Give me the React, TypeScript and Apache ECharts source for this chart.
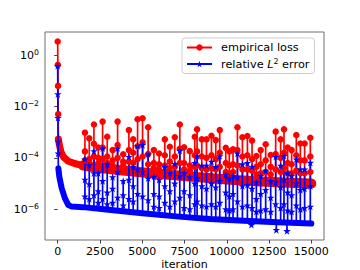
import React, { useEffect, useRef } from 'react';
import * as echarts from 'echarts';

const FONT = 'DejaVu Sans';
const RED = '#ff0000';
const BLUE = '#0000ff';
const LOSS_NAME = 'empirical loss';
const ERR_NAME = 'relative L² error';

const xTickValues = [0, 2500, 5000, 7500, 10000, 12500, 15000];
const yTickExponents = [-6, -4, -2, 0];

// values are stored as log10 of the plotted quantity
const lossStartIter = [0, 10, 20, 30];
const lossStartLog10 = [0.53, -0.38, -1.2, -2.3];
const errStartIter = [0, 8, 16, 24, 32];
const errStartLog10 = [-0.42, -1.52, -2.44, -3.37, -3.83];

const lossBandIter = [40, 100, 200, 350, 600, 1000, 1500, 2500, 4000, 6000, 8000, 10000, 12000, 14000, 15000];
const lossBandLog10 = [-3.27, -3.5, -3.78, -3.97, -4.12, -4.22, -4.3, -4.4, -4.5, -4.63, -4.74, -4.84, -4.92, -4.98, -5.0];
const errBandIter = [40, 100, 240, 430, 630, 830, 1500, 3000, 5000, 7000, 9000, 11000, 13000, 15000];
const errBandLog10 = [-4.41, -4.75, -5.19, -5.58, -5.84, -5.9, -5.92, -6.02, -6.16, -6.28, -6.38, -6.45, -6.51, -6.56];

const spikeIter = [1612, 1867, 2144, 2400, 2657, 2930, 3248, 3543, 3875, 4211, 4465, 4725, 5020, 5350, 5687, 6000, 6337, 6632, 6927, 7222, 7477, 7813, 8108, 8244, 8522, 8800, 9095, 9350, 9585, 9940, 10150, 10370, 10630, 10925, 11220, 11495, 11750, 12006, 12300, 12597, 12892, 13187, 13384, 13600, 13836, 14113, 14350, 14604, 14941];
const lossPeakLog10 = [-3.02, -3.24, -2.7, -3.6, -2.59, -3.18, -3.7, -2.59, -3.86, -2.92, -3.28, -2.5, -2.46, -2.81, -3.7, -3.83, -3.28, -3.57, -3.2, -2.7, -3.59, -3.74, -3.18, -2.89, -3.28, -3.28, -3.14, -3.31, -2.92, -3.61, -3.75, -3.67, -2.81, -3.2, -3.15, -3.33, -3.93, -3.7, -3.47, -3.89, -2.98, -3.28, -2.89, -3.6, -3.7, -3.11, -3.44, -3.44, -3.22];
const lossMidLog10 = [-3.75, -4.05, -3.45, -4.0, -3.6, -3.95, -4.1, -3.5, -4.15, -3.7, -3.8, -3.55, -3.4, -3.85, -4.2, -4.25, -3.9, -4.15, -3.95, -3.65, -4.2, -4.3, -3.9, -3.75, -3.95, -4.0, -3.9, -4.05, -3.8, -4.2, -4.3, -4.25, -3.7, -3.95, -3.9, -4.05, -4.35, -4.25, -4.1, -4.35, -3.85, -4.0, -3.8, -4.2, -4.25, -3.9, -4.1, -4.1, -3.95];
const lossLowLog10 = [-4.1, -4.2, -3.95, -4.2, -4.05, -4.2, -4.3, -4.0, -4.3, -4.15, -4.2, -4.05, -3.95, -4.25, -4.4, -4.45, -4.3, -4.4, -4.35, -4.2, -4.45, -4.5, -4.35, -4.3, -4.4, -4.45, -4.4, -4.45, -4.35, -4.55, -4.6, -4.55, -4.3, -4.45, -4.45, -4.5, -4.65, -4.6, -4.55, -4.65, -4.45, -4.55, -4.4, -4.6, -4.6, -4.5, -4.6, -4.6, -4.55];
const lossFootLog10 = [-4.31, -4.33, -4.35, -4.37, -4.39, -4.4, -4.42, -4.44, -4.46, -4.48, -4.5, -4.51, -4.53, -4.55, -4.57, -4.6, -4.62, -4.64, -4.66, -4.68, -4.7, -4.72, -4.74, -4.75, -4.77, -4.79, -4.81, -4.82, -4.83, -4.85, -4.86, -4.87, -4.88, -4.89, -4.9, -4.91, -4.92, -4.93, -4.94, -4.95, -4.96, -4.97, -4.97, -4.98, -4.98, -4.99, -4.99, -5.0, -5.0];
const errPeakLog10 = [-4.06, -4.28, -3.74, -4.6, -3.63, -4.25, -4.75, -3.63, -4.9, -3.96, -4.35, -3.54, -3.5, -3.86, -4.73, -4.85, -4.35, -4.6, -4.24, -3.72, -4.6, -4.75, -4.2, -3.93, -4.3, -4.3, -4.15, -4.35, -3.93, -4.65, -4.8, -4.7, -3.83, -4.25, -4.2, -4.35, -4.95, -4.7, -4.5, -4.9, -3.96, -4.3, -3.92, -4.6, -4.7, -4.06, -4.45, -4.45, -4.19];
const errMidLog10 = [-4.85, -5.02, -4.6, -5.3, -4.9, -5.35, -5.2, -4.55, -5.45, -4.85, -5.1, -4.45, -4.55, -4.8, -5.4, -5.5, -5.1, -5.3, -5.0, -4.7, -5.3, -5.45, -5.0, -4.8, -5.1, -5.2, -5.0, -5.15, -4.9, -5.35, -5.5, -5.4, -4.75, -5.1, -5.05, -5.2, -5.6, -5.4, -5.25, -5.55, -4.95, -5.15, -4.85, -5.35, -5.45, -5.0, -5.25, -5.2, -5.1];
const errLowLog10 = [-5.5, -5.6, -5.45, -5.75, -5.6, -5.8, -5.75, -5.55, -5.85, -5.6, -5.7, -5.4, -5.5, -5.65, -5.9, -5.95, -5.75, -5.9, -5.7, -5.55, -5.95, -6.0, -5.8, -5.7, -5.85, -5.9, -5.8, -5.9, -5.75, -6.0, -6.05, -6.0, -5.7, -5.9, -5.85, -5.95, -6.1, -6.05, -6.0, -6.1, -5.8, -5.95, -5.8, -6.05, -6.1, -5.85, -6.0, -5.95, -5.9];
const errFootLog10 = [-5.93, -5.94, -5.95, -5.96, -5.97, -5.98, -6.0, -6.02, -6.04, -6.06, -6.08, -6.1, -6.12, -6.14, -6.17, -6.19, -6.21, -6.23, -6.25, -6.27, -6.29, -6.31, -6.33, -6.34, -6.35, -6.36, -6.38, -6.39, -6.4, -6.41, -6.42, -6.42, -6.43, -6.44, -6.45, -6.46, -6.47, -6.48, -6.49, -6.5, -6.51, -6.52, -6.52, -6.53, -6.53, -6.54, -6.55, -6.55, -6.56];

const errDipIter = [11460, 12930, 13560];
const errDipLog10 = [-6.61, -6.81, -6.85];
const errDipFootLog10 = [-6.46, -6.51, -6.53];

const Y_MIN_EXP = -7.2;
const Y_MAX_EXP = 0.9;
const NOISY_FROM = 1500;

const STAR = 'path://M50,0 L61.2,34.5 L97.6,34.5 L68.2,55.9 L79.4,90.5 L50,69.1 L20.6,90.5 L31.8,55.9 L2.4,34.5 L38.8,34.5 Z';

const pw = (v: number) => Math.pow(10, v);

function buildLoss() {
  const d: any[] = [];
  lossStartIter.forEach((it, i) => d.push([it, pw(lossStartLog10[i])]));
  d.push({ value: [lossBandIter[0], pw(lossBandLog10[0])], symbol: 'none' });
  d.push([lossBandIter[0], '-']);
  spikeIter.forEach((it, i) => {
    d.push({ value: [it, pw(lossFootLog10[i])], symbol: 'none' });
    d.push([it, pw(lossPeakLog10[i])]);
    d.push([it, pw(lossMidLog10[i])]);
    d.push([it, pw(lossLowLog10[i])]);
    d.push({ value: [it, pw(lossFootLog10[i])], symbol: 'none' });
    d.push([it, '-']);
  });
  return d;
}

function buildErr() {
  const d: any[] = [];
  errStartIter.forEach((it, i) => d.push([it, pw(errStartLog10[i])]));
  d.push({ value: [errBandIter[0], pw(errBandLog10[0])], symbol: 'none' });
  d.push([errBandIter[0], '-']);
  spikeIter.forEach((it, i) => {
    d.push({ value: [it, pw(errFootLog10[i])], symbol: 'none' });
    d.push([it, pw(errPeakLog10[i])]);
    d.push([it, pw(errMidLog10[i])]);
    d.push([it, pw(errLowLog10[i])]);
    d.push({ value: [it, pw(errFootLog10[i])], symbol: 'none' });
    d.push([it, '-']);
  });
  errDipIter.forEach((it, i) => {
    d.push({ value: [it, pw(errDipFootLog10[i])], symbol: 'none' });
    d.push([it, pw(errDipLog10[i])]);
    d.push([it, '-']);
  });
  return d;
}

export default function App() {
  const ref = useRef<HTMLDivElement>(null);
  useEffect(() => {
    if (!ref.current) return;
    const chart = echarts.init(ref.current, undefined, { renderer: 'svg' });
    const lossBand = lossBandIter.map((it, i) => [it, pw(lossBandLog10[i])]);
    const option: any = {
      animation: false,
      textStyle: { fontFamily: FONT },
      grid: {
        left: 45, right: 36, top: 32, bottom: 30,
        containLabel: false, outerBoundsMode: 'none',
        show: true, borderColor: '#6e6e6e', borderWidth: 1, backgroundColor: 'transparent',
      },
      legend: {
        data: [{ name: LOSS_NAME }, { name: ERR_NAME }],
        orient: 'vertical',
        left: 182,
        top: 38,
        itemWidth: 25,
        itemHeight: 8,
        itemGap: 4,
        padding: [4, 5, 4, 4],
        backgroundColor: 'rgba(255,255,255,0.85)',
        borderColor: '#cccccc',
        borderWidth: 1,
        borderRadius: 3,
        textStyle: {
          fontFamily: FONT,
          fontSize: 11.3,
          color: '#000',
          padding: [0, 0, 0, 4],
          rich: {
            it: { fontFamily: FONT, fontSize: 11.3, fontStyle: 'italic', color: '#000' },
            sup: { fontFamily: FONT, fontSize: 7.9, color: '#000', padding: [0, 0, 6, 0] },
            t: { fontFamily: FONT, fontSize: 11.3, color: '#000' },
          },
        },
        formatter: (name: string) => (name === ERR_NAME ? '{t|relative }{it|L}{sup|2}{t| error}' : name),
      },
      xAxis: {
        type: 'value',
        min: -750,
        max: 15750,
        name: 'iteration',
        nameLocation: 'middle',
        nameGap: 19,
        nameMoveOverlap: false,
        nameTextStyle: { fontFamily: FONT, fontSize: 11, color: '#000' },
        axisLine: { show: false },
        splitLine: { show: false },
        axisTick: { show: true, length: 3.5, lineStyle: { color: '#444', width: 1 }, customValues: xTickValues },
        axisLabel: { fontFamily: FONT, fontSize: 11, color: '#000', margin: 6, customValues: xTickValues, formatter: (v: number) => String(v) },
      },
      yAxis: {
        type: 'log',
        logBase: 10,
        min: pw(Y_MIN_EXP),
        max: pw(Y_MAX_EXP),
        axisLine: { show: false },
        splitLine: { show: false },
        minorTick: { show: false },
        axisTick: { show: true, length: 3.5, lineStyle: { color: '#444', width: 1 }, customValues: yTickExponents.map(pw) },
        axisLabel: {
          fontFamily: FONT,
          fontSize: 11,
          color: '#000',
          margin: 6,
          customValues: yTickExponents.map(pw),
          formatter: (v: number) => {
            const e = Math.round(Math.log10(v));
            const s = e === 0 ? '0' : '\u2212' + Math.abs(e);
            return '{b|10}{s|' + s + '}';
          },
          rich: {
            b: { fontFamily: FONT, fontSize: 11, color: '#000' },
            s: { fontFamily: FONT, fontSize: 7.7, color: '#000', padding: [0, 0, 6, 0] },
          },
        },
      },
      series: [
        {
          name: 'loss band',
          type: 'line',
          data: lossBand,
          symbol: 'none',
          lineStyle: { color: RED, width: 7, cap: 'round', join: 'round' },
          silent: true,
        },
        {
          name: 'loss band noisy',
          type: 'line',
          data: lossBand.filter((p) => p[0] >= NOISY_FROM),
          symbol: 'none',
          lineStyle: { color: RED, width: 10, cap: 'round', join: 'round' },
          silent: true,
        },
        {
          name: LOSS_NAME,
          type: 'line',
          data: buildLoss(),
          symbol: 'circle',
          symbolSize: 6.5,
          connectNulls: false,
          lineStyle: { color: RED, width: 1.7 },
          itemStyle: { color: RED },
          silent: true,
        },
        {
          name: 'error band',
          type: 'line',
          data: errBandIter.map((it, i) => [it, pw(errBandLog10[i])]),
          symbol: 'none',
          lineStyle: { color: BLUE, width: 6, cap: 'round', join: 'round' },
          silent: true,
        },
        {
          name: ERR_NAME,
          type: 'line',
          data: buildErr(),
          symbol: STAR,
          symbolSize: 7.5,
          connectNulls: false,
          lineStyle: { color: BLUE, width: 1.7 },
          itemStyle: { color: BLUE },
          silent: true,
        },
      ],
    };
    chart.setOption(option);
    return () => chart.dispose();
  }, []);
  return <div ref={ref} style={{ position: 'absolute', left: 0, top: 0, width: 360, height: 270 }} />;
}
